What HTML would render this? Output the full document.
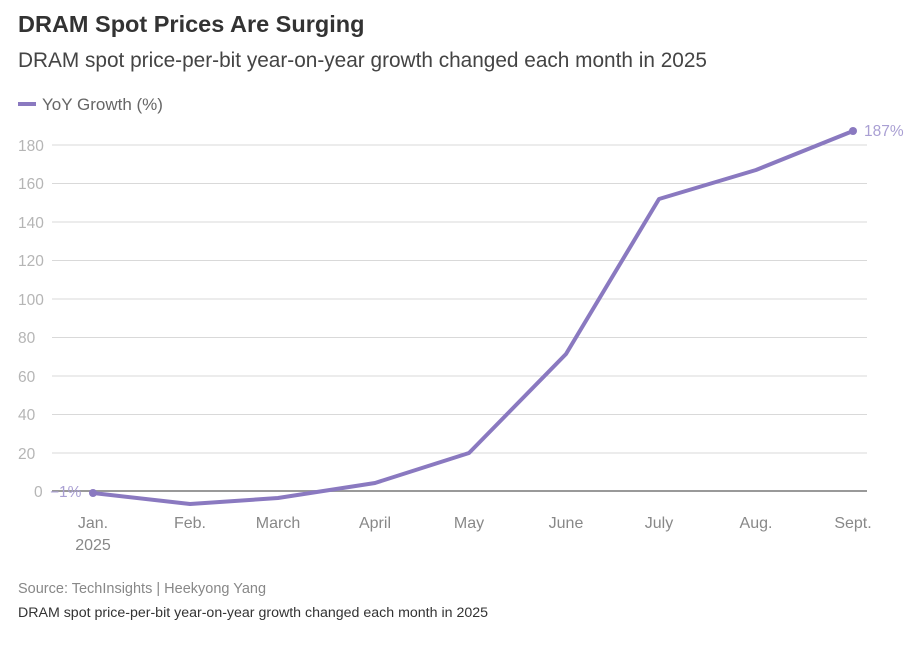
<!DOCTYPE html>
<html><head><meta charset="utf-8"><style>
html,body{margin:0;padding:0;background:#fff;}
body{width:920px;height:640px;overflow:hidden;font-family:"Liberation Sans",sans-serif;}
</style></head><body>
<svg width="920" height="640" xmlns="http://www.w3.org/2000/svg" font-family="Liberation Sans, sans-serif">
<text x="18" y="32" font-size="23.5" font-weight="bold" fill="#333">DRAM Spot Prices Are Surging</text>
<text x="18" y="67" font-size="20.8" fill="#444">DRAM spot price-per-bit year-on-year growth changed each month in 2025</text>
<line x1="18" y1="104" x2="36" y2="104" stroke="#8a79c0" stroke-width="4"/>
<text x="42" y="110" font-size="17" fill="#666">YoY Growth (%)</text>
<g stroke="#d9d9d9" stroke-width="1">
<line x1="52" y1="145" x2="867" y2="145"/>
<line x1="52" y1="183.5" x2="867" y2="183.5"/>
<line x1="52" y1="222" x2="867" y2="222"/>
<line x1="52" y1="260.5" x2="867" y2="260.5"/>
<line x1="52" y1="299" x2="867" y2="299"/>
<line x1="52" y1="337.5" x2="867" y2="337.5"/>
<line x1="52" y1="376" x2="867" y2="376"/>
<line x1="52" y1="414.5" x2="867" y2="414.5"/>
<line x1="52" y1="453" x2="867" y2="453"/>
</g>
<line x1="52" y1="491" x2="867" y2="491" stroke="#999" stroke-width="2"/>
<g font-size="15.5" fill="#b5b5b5">
<text x="18" y="151">180</text><text x="18" y="189">160</text><text x="18" y="228">140</text>
<text x="18" y="266">120</text><text x="18" y="305">100</text><text x="18" y="343">80</text>
<text x="18" y="382">60</text><text x="18" y="420">40</text><text x="18" y="459">20</text>
<text x="34" y="497">0</text>
</g>
<polyline fill="none" stroke="#8a79c0" stroke-width="4" stroke-linejoin="round" points="93,493 190,504 278,498 375,483 469,453 566,354 659,199 756,170 853,131"/>
<circle cx="93" cy="493" r="4" fill="#8a79c0"/>
<circle cx="853" cy="131" r="4" fill="#8a79c0"/>
<text x="50" y="497" font-size="15.5" fill="#a99fd3">−1%</text>
<text x="864" y="136" font-size="15.5" fill="#a99fd3">187%</text>
<g font-size="16" fill="#888" text-anchor="middle">
<text x="93" y="528">Jan.</text><text x="93" y="550">2025</text>
<text x="190" y="528">Feb.</text><text x="278" y="528">March</text>
<text x="375" y="528">April</text><text x="469" y="528">May</text>
<text x="566" y="528">June</text><text x="659" y="528">July</text>
<text x="756" y="528">Aug.</text><text x="853" y="528">Sept.</text>
</g>
<text x="18" y="593" font-size="14.5" fill="#888">Source: TechInsights | Heekyong Yang</text>
<text x="18" y="617" font-size="14.2" fill="#333">DRAM spot price-per-bit year-on-year growth changed each month in 2025</text>
</svg>
</body></html>
